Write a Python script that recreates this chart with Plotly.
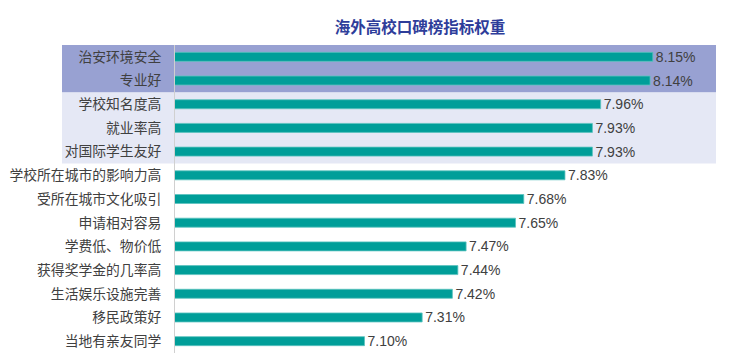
import plotly.graph_objects as go

title = "海外高校口碑榜指标权重"
categories = ["治安环境安全", "专业好", "学校知名度高", "就业率高", "对国际学生友好",
              "学校所在城市的影响力高", "受所在城市文化吸引", "申请相对容易", "学费低、物价低",
              "获得奖学金的几率高", "生活娱乐设施完善", "移民政策好", "当地有亲友同学"]
values = [8.15, 8.14, 7.96, 7.93, 7.93, 7.83, 7.68, 7.65, 7.47, 7.44, 7.42, 7.31, 7.10]
labels = [f"{v:.2f}%" for v in values]

W, H = 731, 363
OFF = 8  # page body margin
L, R, T, B = 175 - OFF, 15 + OFF, 45 - OFF, 10 + OFF
pw = W - L - R

fig = go.Figure()
fig.add_trace(go.Bar(
    y=categories, x=values, orientation="h", width=0.38,
    marker=dict(color="#009E99", line=dict(color="#5CC3BF", width=0.8)),
    text=labels, textposition="outside", cliponaxis=False, constraintext="none",
    textfont=dict(family="Liberation Sans Narrow, Arial Narrow, Liberation Sans", size=14, color="#404040"),
    hoverinfo="skip",
))

band_x0 = (62 - 175) / pw
fig.add_shape(type="rect", xref="paper", yref="y", x0=band_x0, x1=1, y0=-0.5, y1=1.5,
              fillcolor="#98A1D2", line=dict(width=0), layer="below")
fig.add_shape(type="rect", xref="paper", yref="y", x0=band_x0, x1=1, y0=1.5, y1=4.5,
              fillcolor="#E5E8F5", line=dict(width=0), layer="below")

fig.update_layout(
    width=W, height=H, margin=dict(l=L, r=R, t=T, b=B, autoexpand=False),
    paper_bgcolor="white", plot_bgcolor="rgba(0,0,0,0)",
    title=dict(text=title, x=(420 - OFF) / W, xanchor="center", y=1 - (28 - OFF) / H, yanchor="middle",
               font=dict(family="Noto Sans CJK SC", size=15.5, color="#2E3D9A", weight="bold")),
    showlegend=False, bargap=0.6,
    xaxis=dict(range=[6.41, 8.38], visible=False, fixedrange=True, automargin=False),
    yaxis=dict(autorange="reversed", showgrid=False, zeroline=False, showline=True, automargin=False,
               linecolor="#D0D0D0", linewidth=1, ticks="", ticklabelstandoff=10,
               tickfont=dict(family="Noto Sans CJK SC", size=13.8, color="#404040")),
)
fig.write_html("out.html")
